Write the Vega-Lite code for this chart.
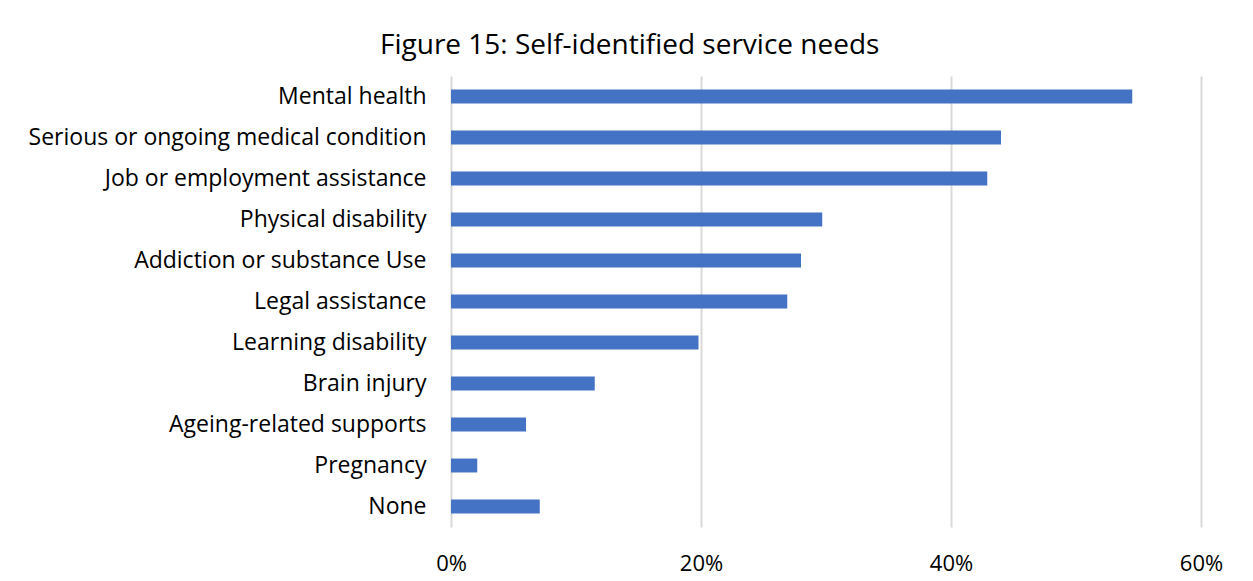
{
  "$schema": "https://vega.github.io/schema/vega-lite/v6.json",
  "width": 750,
  "height": 451,
  "autosize": {"type": "none"},
  "padding": {"left": 451, "top": 76, "right": 52, "bottom": 54},
  "background": "white",
  "title": {
    "text": "Figure 15: Self-identified service needs",
    "anchor": "start",
    "frame": "group",
    "dx": -71,
    "offset": 16,
    "font": "Open Sans",
    "fontSize": 28,
    "fontWeight": "normal",
    "color": "#000000"
  },
  "data": {
    "values": [
      {"need": "Mental health", "pct": 0.545},
      {"need": "Serious or ongoing medical condition", "pct": 0.44},
      {"need": "Job or employment assistance", "pct": 0.429},
      {"need": "Physical disability", "pct": 0.297},
      {"need": "Addiction or substance Use", "pct": 0.28},
      {"need": "Legal assistance", "pct": 0.269},
      {"need": "Learning disability", "pct": 0.198},
      {"need": "Brain injury", "pct": 0.115},
      {"need": "Ageing-related supports", "pct": 0.06},
      {"need": "Pregnancy", "pct": 0.021},
      {"need": "None", "pct": 0.071}
    ]
  },
  "mark": {"type": "bar", "color": "#4472C4"},
  "encoding": {
    "y": {
      "field": "need",
      "type": "nominal",
      "sort": null,
      "title": null,
      "scale": {"paddingInner": 0.66, "paddingOuter": 0.33},
      "axis": {
        "domain": false,
        "ticks": false,
        "labelPadding": 25,
        "labelFont": "Open Sans",
        "labelFontSize": 23,
        "labelColor": "#000000",
        "labelLimit": 500
      }
    },
    "x": {
      "field": "pct",
      "type": "quantitative",
      "title": null,
      "scale": {"domain": [0, 0.6], "nice": false},
      "axis": {
        "values": [0, 0.2, 0.4, 0.6],
        "format": ".0%",
        "domain": false,
        "ticks": false,
        "grid": true,
        "gridColor": "#d9d9d9",
        "gridWidth": 2,
        "labelPadding": 26,
        "labelFont": "Open Sans",
        "labelFontSize": 22,
        "labelColor": "#000000",
        "labelFlush": false
      }
    }
  },
  "config": {"view": {"stroke": null}}
}
